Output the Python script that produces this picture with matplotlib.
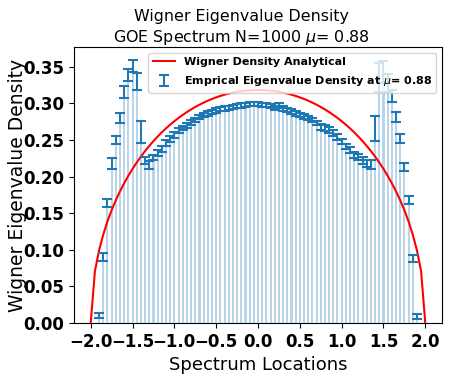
import numpy as np
import matplotlib
matplotlib.use("Agg")
import matplotlib.pyplot as plt

# Bin centres of the empirical histogram
bin_centers = np.round(np.arange(-1.90, 1.901, 0.05), 2)

density = [
    0.010, 0.090, 0.164, 0.218, 0.250, 0.280, 0.316, 0.339, 0.351, 0.330,
    0.261, 0.222, 0.216, 0.226, 0.232, 0.238, 0.246, 0.251, 0.257, 0.263,
    0.266, 0.270, 0.274, 0.277, 0.281, 0.284, 0.286, 0.288, 0.290, 0.292,
    0.293, 0.294, 0.295, 0.296, 0.297, 0.298, 0.299, 0.299, 0.299, 0.298,
    0.298, 0.296, 0.294, 0.297, 0.293, 0.291, 0.289, 0.286, 0.284, 0.282,
    0.280, 0.277, 0.273, 0.268, 0.266, 0.264, 0.259, 0.254, 0.248, 0.241,
    0.236, 0.229, 0.227, 0.222, 0.218, 0.216, 0.266, 0.335, 0.343, 0.328,
    0.310, 0.281, 0.252, 0.213, 0.168, 0.088, 0.009,
]

# Error (half-length) of each error bar
errors = [
    0.003, 0.005, 0.006, 0.007, 0.006, 0.007, 0.008, 0.008, 0.008, 0.012,
    0.015, 0.005, 0.005, 0.004, 0.004, 0.004, 0.004, 0.004, 0.004, 0.004,
    0.003, 0.003, 0.003, 0.003, 0.003, 0.003, 0.003, 0.003, 0.003, 0.003,
    0.003, 0.003, 0.003, 0.003, 0.003, 0.003, 0.003, 0.003, 0.003, 0.003,
    0.003, 0.003, 0.003, 0.003, 0.003, 0.003, 0.003, 0.003, 0.003, 0.003,
    0.003, 0.003, 0.003, 0.004, 0.004, 0.004, 0.004, 0.004, 0.004, 0.004,
    0.004, 0.004, 0.004, 0.005, 0.005, 0.006, 0.017, 0.020, 0.015, 0.012,
    0.008, 0.007, 0.006, 0.006, 0.006, 0.005, 0.003,
]

mu = 0.88
N = 1000

# Analytical Wigner semicircle on [-2, 2]
x_theory = np.linspace(-2.0, 2.0, 81)
rho_theory = np.sqrt(np.clip(4.0 - x_theory**2, 0, None)) / (2 * np.pi)

fig = plt.figure(figsize=(4.49, 3.76), dpi=100)
ax = fig.add_axes([74 / 449, 1 - 323 / 376, (442 - 74) / 449, (323 - 47) / 376])

ax.bar(bin_centers, density, width=0.025, color="tab:blue", alpha=0.3)
ax.plot(x_theory, rho_theory, color="red", lw=1.5, label="Wigner Density Analytical")
ax.errorbar(bin_centers, density, yerr=errors, fmt="none", ecolor="tab:blue",
            elinewidth=1.5, capsize=3.8, capthick=1.5,
            label=r"Emprical Eigenvalue Density at $\mu$= %.2f" % mu)

ax.set_xlim(-2.2, 2.2)
ax.set_ylim(0, 0.377)
ax.set_xticks([-2.0, -1.5, -1.0, -0.5, 0.0, 0.5, 1.0, 1.5, 2.0])
ax.set_yticks([0.0, 0.05, 0.10, 0.15, 0.20, 0.25, 0.30, 0.35])
ax.set_yticklabels(["%.2f" % v for v in ax.get_yticks()])
for lab in ax.get_xticklabels() + ax.get_yticklabels():
    lab.set_fontweight("bold")
    lab.set_fontsize(12)

ax.set_xlabel("Spectrum Locations", fontsize=13)
ax.set_ylabel("Wigner Eigenvalue Density", fontsize=13.5)
ax.yaxis.set_label_coords(-(74 - 27) / 368, 0.5)
ax.set_title("Wigner Eigenvalue Density\nGOE Spectrum N=%d $\\mu$= %.2f" % (N, mu),
             fontsize=11.4, x=(241.5 - 74) / 368, pad=3, linespacing=1.3)

leg = ax.legend(loc="upper right", prop={"weight": "bold", "size": 8},
                labelspacing=0.65)

fig.savefig("out.png", dpi=100)
